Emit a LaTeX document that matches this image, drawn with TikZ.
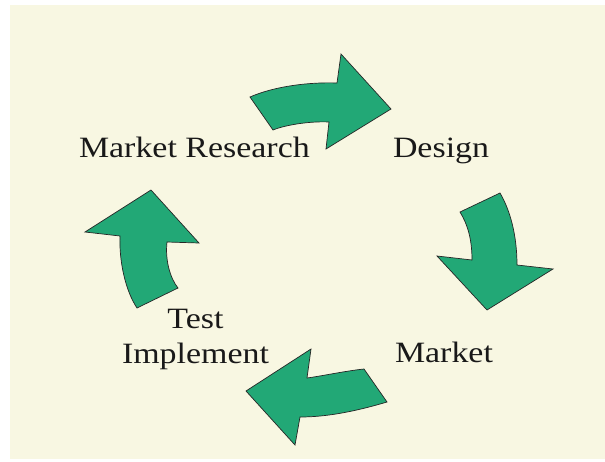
\documentclass[tikz,border=0pt]{standalone}
\usepackage{fontspec}
\setmainfont{Liberation Serif}[FakeStretch=1.15]
\definecolor{cream}{RGB}{248,247,226}
\definecolor{arrowgreen}{RGB}{34,168,118}
\begin{document}
\begin{tikzpicture}[x=1pt,y=-1pt,
  bigarrow/.style={fill=arrowgreen,draw=black!85,line width=0.7pt,line join=miter},
  lbl/.style={inner sep=0pt,outer sep=0pt,font=\fontsize{29.5}{35}\selectfont,text=black!90}]
\useasboundingbox (0,0) rectangle (605,461);
\fill[white] (0,0) rectangle (605,461);
\fill[cream] (10,5) rectangle (605,459);
% top arrow (Market Research -> Design)
\draw[bigarrow] (250,97) .. controls (275,86) and (310,82) .. (337,83)
  -- (341,54) -- (391,109) -- (326,149) -- (329,122)
  .. controls (310,121) and (285,125) .. (273,130) -- cycle;
% right arrow (Design -> Market)
\draw[bigarrow] (500,193) .. controls (510,210) and (517,235) .. (517,265)
  -- (553,269) -- (487,310) -- (437,256) -- (472,260)
  .. controls (472,240) and (468,225) .. (460,212) -- cycle;
% bottom arrow (Market -> Test Implement)
\draw[bigarrow] (387,402) .. controls (360,410) and (330,417) .. (300,417)
  -- (295,445) -- (246,391) -- (311,349) -- (307,378)
  .. controls (322,376) and (345,371) .. (364,369) -- cycle;
% left arrow (Test Implement -> Market Research)
\draw[bigarrow] (137,308) .. controls (125,290) and (119,260) .. (120,236)
  -- (85,232) -- (151,190) -- (199,243) -- (167,242)
  .. controls (165,260) and (170,278) .. (178,288) -- cycle;
% labels
\node[lbl,anchor=base west] (mr) at (79,157) {Market Research};
\node[lbl,anchor=base west] (de) at (393,157) {Design};
\node[lbl,anchor=base west] (mk) at (395,362) {Market};
\node[lbl,anchor=base] (te) at (195.5,328) {Test};
\node[lbl,anchor=base] (im) at (195.5,363) {Implement};
\end{tikzpicture}
\end{document}
